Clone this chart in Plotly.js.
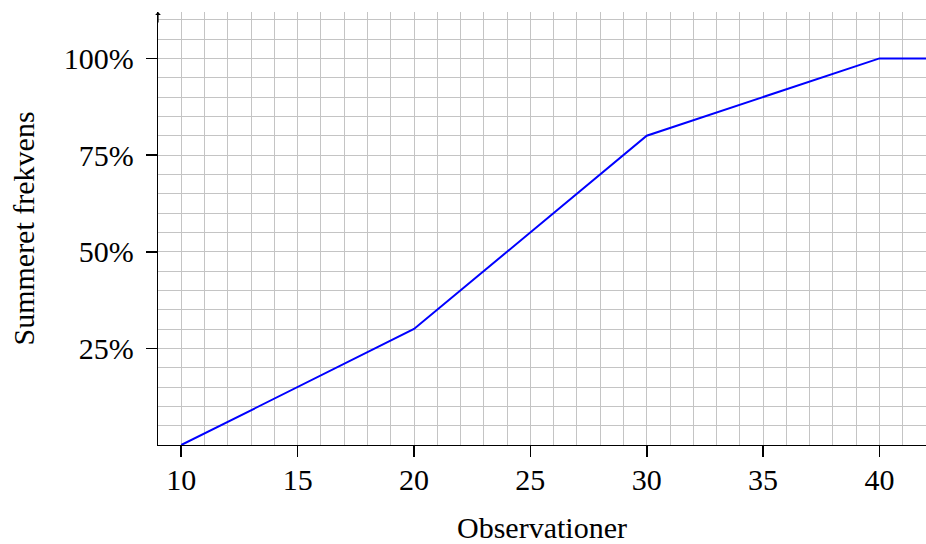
<!DOCTYPE html>
<html>
<head>
<meta charset="utf-8">
<script src="https://cdn.plot.ly/plotly-3.0.1.min.js"></script>
<style>html,body{margin:0;padding:0;background:#fff;}#chart{width:926px;height:544px;}</style>
</head>
<body>
<div id="chart"></div>
<script>
const observations = [10, 20, 30, 40, 42];
const cumulativePct = [0, 30, 80, 100, 100];
const xTickVals = [10, 15, 20, 25, 30, 35, 40];
const yTickVals = [25, 50, 75, 100];
const yTickText = ['25%', '50%', '75%', '100%'];

const font = {family: 'Liberation Serif, DejaVu Serif, serif', size: 30, color: '#000'};

const trace = {
  x: observations, y: cumulativePct, type: 'scatter', mode: 'lines',
  line: {color: '#0000ff', width: 2}, hoverinfo: 'skip'
};

const gridCol = '#c4c4c4';

const layout = {
  width: 926, height: 544,
  margin: {l: 158, r: 0, t: 12, b: 99},
  paper_bgcolor: '#fff', plot_bgcolor: '#fff',
  font: font,
  showlegend: false,
  xaxis: {
    range: [9, 42], tickmode: 'array', tickvals: xTickVals,
    ticks: 'outside', ticklen: 11, tickwidth: 1.6, tickcolor: '#000',
    showline: true, linecolor: '#000', linewidth: 1.2,
    showgrid: false,
    zeroline: false,
    minor: {tickmode: 'linear', tick0: 0, dtick: 1, showgrid: true, gridcolor: gridCol, gridwidth: 1, ticks: ''},
    tickfont: font,
    ticklabelstandoff: -3,
    title: {text: 'Observationer', font: font, standoff: 21},
    automargin: false
  },
  yaxis: {
    range: [0, 112], tickmode: 'array', tickvals: yTickVals, ticktext: yTickText,
    ticks: 'outside', ticklen: 11, tickwidth: 1.6, tickcolor: '#000',
    showline: true, linecolor: '#000', linewidth: 1.2,
    showgrid: false,
    zeroline: false,
    minor: {tickmode: 'linear', tick0: 0, dtick: 5, showgrid: true, gridcolor: gridCol, gridwidth: 1, ticks: ''},
    tickfont: font,
    ticklabelstandoff: 6,
    title: {text: 'Summeret frekvens', font: font, standoff: 20},
    automargin: false
  },
  annotations: [{
    xref: 'paper', yref: 'paper', x: 0, y: 1, ax: 0, ay: 12, axref: 'pixel', ayref: 'pixel',
    showarrow: true, arrowhead: 1, arrowsize: 0.8, arrowwidth: 1.2, arrowcolor: '#000', text: ''
  }]
};

Plotly.newPlot('chart', [trace], layout, {staticPlot: true, displayModeBar: false});
</script>
</body>
</html>
